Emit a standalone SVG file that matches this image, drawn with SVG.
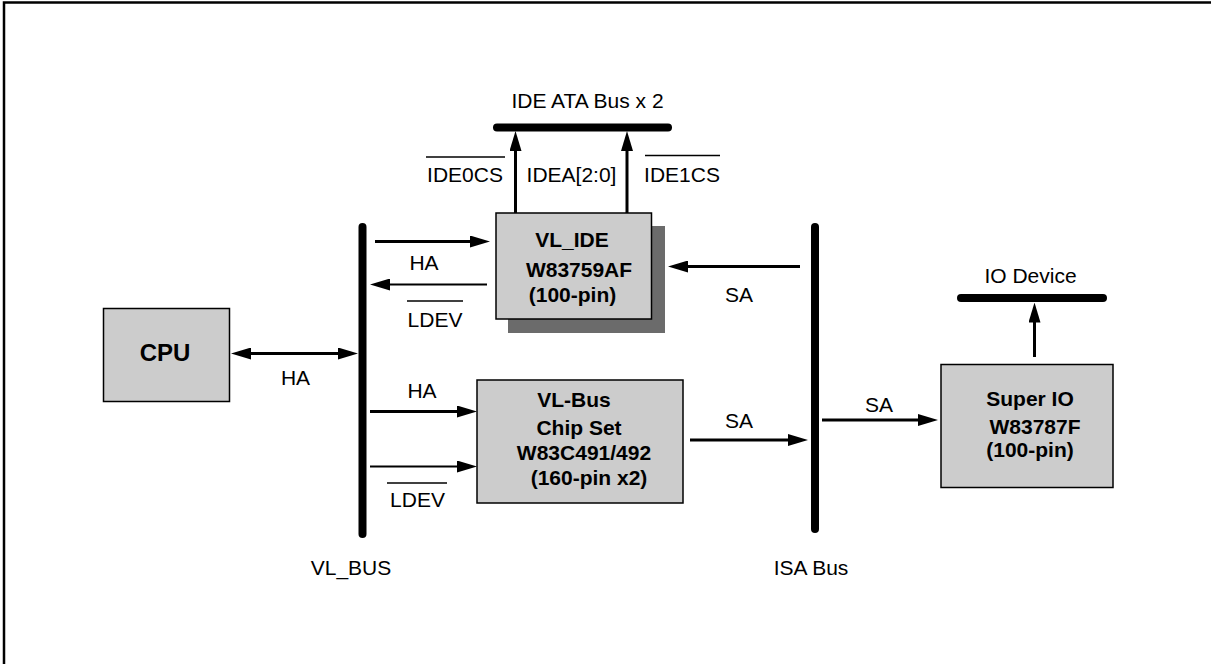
<svg xmlns="http://www.w3.org/2000/svg" width="1211" height="664" viewBox="0 0 1211 664">
<style>
text{font-family:"Liberation Sans",Arial,sans-serif;fill:#000}
.lbl{font-size:21px;text-anchor:middle}
.bt{font-size:21px;font-weight:bold;text-anchor:middle}
.box{fill:#cccccc;stroke:#000;stroke-width:1.5}
.bus{stroke:#000;stroke-width:8;stroke-linecap:round;fill:none}
.ar{stroke:#000;stroke-width:3;fill:none;marker-end:url(#ah)}
.ar2{stroke:#000;stroke-width:2;fill:none;marker-end:url(#ah)}
.ol{stroke:#000;stroke-width:1.5}
</style>
<defs>
<marker id="ah" markerUnits="userSpaceOnUse" markerWidth="20" markerHeight="12" refX="8" refY="6" orient="auto-start-reverse">
<path d="M0,0 L20,6 L0,12 z" fill="#000"/>
</marker>
</defs>
<rect width="1211" height="664" fill="#fff"/>
<path d="M4,664 V2.5 H1211" fill="none" stroke="#000" stroke-width="2.5"/>

<g id="ide-ata-bus">
<line class="bus" x1="497" y1="127.5" x2="668" y2="127.5"/>
<text class="lbl" x="587.5" y="108">IDE ATA Bus x 2</text>
</g>
<g id="io-device-bus">
<line class="bus" x1="961" y1="298" x2="1103" y2="298"/>
<text class="lbl" x="1030.5" y="283">IO Device</text>
</g>
<g id="vl-bus">
<line class="bus" x1="362.5" y1="227" x2="362.5" y2="534"/>
<text class="lbl" x="351" y="575">VL_BUS</text>
</g>
<g id="isa-bus">
<line class="bus" x1="815" y1="227" x2="815" y2="529"/>
<text class="lbl" x="811" y="575">ISA Bus</text>
</g>

<g id="cpu">
<rect class="box" x="103.5" y="308.5" width="126" height="93"/>
<text class="bt" style="font-size:24px" x="165" y="361">CPU</text>
</g>
<g id="vl-ide">
<rect x="508" y="226" width="157" height="107" fill="#6b6b6b"/>
<rect class="box" x="496" y="213" width="155.5" height="106"/>
<text class="bt" x="572" y="247">VL_IDE</text>
<text class="bt" x="579" y="277">W83759AF</text>
<text class="bt" x="572.5" y="302">(100-pin)</text>
</g>
<g id="chipset">
<rect class="box" x="477" y="380" width="206" height="123"/>
<text class="bt" x="574" y="407">VL-Bus</text>
<text class="bt" x="579" y="435">Chip Set</text>
<text class="bt" x="584" y="460">W83C491/492</text>
<text class="bt" x="589" y="485">(160-pin x2)</text>
</g>
<g id="super-io">
<rect class="box" x="941" y="364.5" width="172" height="123"/>
<text class="bt" x="1030" y="406">Super IO</text>
<text class="bt" x="1035" y="434">W83787F</text>
<text class="bt" x="1030" y="457">(100-pin)</text>
</g>

<g id="connectors">
<line class="ar" x1="515.5" y1="213" x2="515.5" y2="143"/>
<line class="ar" x1="627" y1="213" x2="627" y2="143"/>
<line class="ar" x1="375" y1="241.5" x2="478" y2="241.5"/>
<line class="ar2" x1="487" y1="284.5" x2="382" y2="284.5"/>
<line class="ar" x1="800" y1="266.5" x2="680" y2="266.5"/>
<line class="ar" x1="243" y1="353.5" x2="346" y2="353.5" style="marker-start:url(#ah)"/>
<line class="ar" x1="370" y1="411.5" x2="465" y2="411.5"/>
<line class="ar2" x1="370" y1="466.5" x2="465" y2="466.5"/>
<line class="ar" x1="690" y1="440" x2="796" y2="440"/>
<line class="ar" x1="822" y1="420" x2="926" y2="420"/>
<line class="ar" x1="1034.5" y1="357" x2="1034.5" y2="314.5"/>
</g>

<g id="labels">
<text class="lbl" x="465" y="182">IDE0CS</text>
<line class="ol" x1="426" y1="157" x2="505" y2="157"/>
<text class="lbl" x="571.5" y="182">IDEA[2:0]</text>
<text class="lbl" x="682" y="182">IDE1CS</text>
<line class="ol" x1="645" y1="155.5" x2="720" y2="155.5"/>
<text class="lbl" x="424" y="270">HA</text>
<text class="lbl" x="435" y="327">LDEV</text>
<line class="ol" x1="407" y1="301" x2="463" y2="301"/>
<text class="lbl" x="739" y="302">SA</text>
<text class="lbl" x="295.5" y="385">HA</text>
<text class="lbl" x="422" y="398">HA</text>
<text class="lbl" x="417.5" y="507">LDEV</text>
<line class="ol" x1="387" y1="483" x2="447" y2="483"/>
<text class="lbl" x="739" y="428">SA</text>
<text class="lbl" x="879" y="412">SA</text>
</g>
</svg>
